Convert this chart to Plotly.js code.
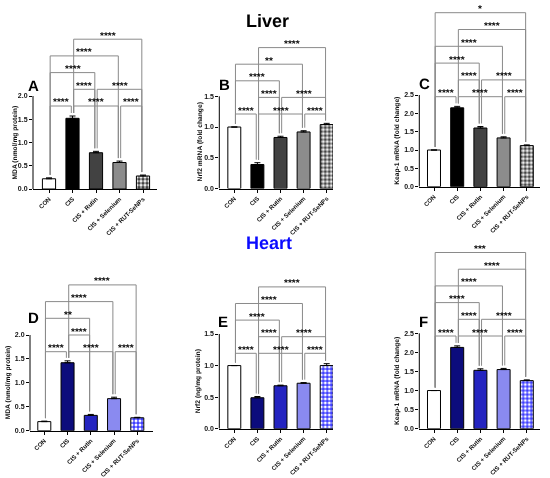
<!DOCTYPE html>
<html>
<head>
<meta charset="utf-8">
<script src="https://cdn.plot.ly/plotly-3.0.1.min.js"></script>
<style>
html,body{margin:0;padding:0;background:#fff;}
#chart{width:550px;height:478px;}
#chart svg.main-svg{will-change:transform;}
#chart .annotation text{text-rendering:geometricPrecision;}
</style>
</head>
<body>
<div id="chart"></div>
<script>
// ---------- DATA ----------
const categories = ['CON', 'CIS', 'CIS + Rutin', 'CIS + Selenium', 'CIS + RUT-SeNPs'];

const liverMDA = [0.22, 1.52, 0.78, 0.57, 0.28];
const liverMDAErr = [0.02, 0.05, 0.03, 0.03, 0.02];
const liverNrf2 = [1.00, 0.39, 0.83, 0.92, 1.04];
const liverNrf2Err = [0.00, 0.03, 0.02, 0.02, 0.02];
const liverKeap1 = [1.00, 2.15, 1.60, 1.33, 1.12];
const liverKeap1Err = [0.00, 0.04, 0.04, 0.03, 0.02];

const heartMDA = [0.19, 1.42, 0.32, 0.67, 0.27];
const heartMDAErr = [0.01, 0.04, 0.02, 0.03, 0.01];
const heartNrf2 = [1.00, 0.49, 0.68, 0.72, 1.00];
const heartNrf2Err = [0.00, 0.02, 0.01, 0.01, 0.03];
const heartKeap1 = [1.00, 2.13, 1.53, 1.55, 1.26];
const heartKeap1Err = [0.00, 0.04, 0.04, 0.03, 0.02];

// comparisons: [group i, group j, label, bracket level]
const compA = [[0,1,'****',1],[1,3,'****',1],[3,4,'****',1],[1,2,'****',2],[2,4,'****',2],[0,2,'****',3],[0,3,'****',4],[1,4,'****',5]];
const compB = [[0,1,'****',1],[1,3,'****',1],[3,4,'****',1],[1,2,'****',2],[2,4,'****',2],[0,2,'****',3],[0,3,'**',4],[1,4,'****',5]];
const compC = [[0,1,'****',1],[1,3,'****',1],[3,4,'****',1],[1,2,'****',2],[2,4,'****',2],[0,2,'****',3],[0,3,'****',4],[1,4,'****',5],[0,4,'*',6]];
const compD = [[0,1,'****',1],[1,3,'****',1],[3,4,'****',1],[1,2,'****',2],[0,2,'**',3],[0,3,'****',4],[1,4,'****',5]];
const compE = [[0,1,'****',1],[1,3,'****',1],[3,4,'****',1],[1,2,'****',2],[2,4,'****',2],[0,2,'****',3],[0,3,'****',4],[1,4,'****',5]];
const compF = [[0,1,'****',1],[1,3,'****',1],[3,4,'****',1],[1,2,'****',2],[2,4,'****',2],[0,2,'****',3],[0,3,'****',4],[1,4,'****',5],[0,4,'***',6]];

const yTitles = ['MDA (nmol/mg protein)', 'Nrf2 mRNA (fold change)', 'Keap-1 mRNA (fold change)',
                 'MDA (nmol/mg protein)', 'Nrf2 (ng/mg protein)', 'Keap-1 mRNA (fold change)'];
const panelLetters = ['A', 'B', 'C', 'D', 'E', 'F'];
const sectionTitles = ['Liver', 'Heart'];

// ---------- STYLE / GEOMETRY ----------
const W = 550, H = 478;
const FONT = 'Arial, "Liberation Sans", sans-serif';
const liverStyle = {
  bg: ['#ffffff', '#000000', '#424242', '#8c8c8c', '#ffffff'],
  fg: ['#000000', '#000000', '#000000', '#000000', '#000000'],
  shape: ['', '', '', '', '.'],
  size: [8, 8, 8, 8, 4],
  sol: [0.3, 0.3, 0.3, 0.3, 0.6]
};
const heartStyle = {
  bg: ['#ffffff', '#0c0c7c', '#2424c0', '#8a8af0', '#3a3aff'],
  fg: ['#000000', '#000000', '#000000', '#000000', '#ffffff'],
  shape: ['', '', '', '', '.'],
  size: [8, 8, 8, 8, 4],
  sol: [0.3, 0.3, 0.3, 0.3, 0.45]
};

const panels = [
  {vals: liverMDA, err: liverMDAErr, comp: compA, style: liverStyle, xL: 33, xR: 157, c0: 49, s: 23.5, y0: 189, yTop: 96, max: 2.0, dt: 0.5, l1: 106, step: 16.7, titleX: 15, letter: [33.5, 85]},
  {vals: liverNrf2, err: liverNrf2Err, comp: compB, style: liverStyle, xL: 219.3, xR: 333, c0: 234.3, s: 23.1, y0: 188.5, yTop: 96.3, max: 1.5, dt: 0.5, l1: 114, step: 16.6, titleX: 200, letter: [224, 84]},
  {vals: liverKeap1, err: liverKeap1Err, comp: compC, style: liverStyle, xL: 419.3, xR: 540, c0: 434, s: 23.2, y0: 186.7, yTop: 95, max: 2.5, dt: 0.5, l1: 96.7, step: 16.8, titleX: 397, letter: [424, 83]},
  {vals: heartMDA, err: heartMDAErr, comp: compD, style: heartStyle, xL: 30, xR: 152.7, c0: 44.3, s: 23.25, y0: 430.7, yTop: 335, max: 2.0, dt: 0.5, l1: 351.7, step: 16.7, titleX: 7.5, letter: [33.5, 317]},
  {vals: heartNrf2, err: heartNrf2Err, comp: compE, style: heartStyle, xL: 219.3, xR: 333, c0: 234.3, s: 23.1, y0: 428.7, yTop: 334, max: 1.5, dt: 0.5, l1: 353.3, step: 16.6, titleX: 198, letter: [222.5, 321]},
  {vals: heartKeap1, err: heartKeap1Err, comp: compF, style: heartStyle, xL: 419.3, xR: 540, c0: 434, s: 23.2, y0: 428.7, yTop: 333.3, max: 2.5, dt: 0.5, l1: 336, step: 16.7, titleX: 397, letter: [423.5, 321]}
];

const traces = [];
const layout = {
  width: W, height: H,
  margin: {l: 0, r: 0, t: 0, b: 0},
  paper_bgcolor: '#ffffff', plot_bgcolor: 'rgba(0,0,0,0)',
  showlegend: false,
  font: {family: FONT, color: '#000'},
  shapes: [], annotations: []
};

const xIdx = categories.map((_, i) => i);

panels.forEach((p, n) => {
  const id = n === 0 ? '' : String(n + 1);
  const xa = 'x' + id, ya = 'y' + id;
  const k = (p.y0 - p.yTop) / p.max;             // px per unit
  const maxLevel = Math.max(...p.comp.map(c => c[3]));
  const topPx = p.l1 - (maxLevel - 1) * p.step - 10;
  const ticks = [];
  for (let t = 0; t <= p.max + 1e-9; t += p.dt) ticks.push(+t.toFixed(2));

  layout['xaxis' + id] = {
    domain: [p.xL / W, p.xR / W], anchor: ya,
    range: [(p.xL - p.c0) / p.s, (p.xR - p.c0) / p.s],
    showline: true, linecolor: '#000', linewidth: 1,
    ticks: 'outside', ticklen: 3, tickwidth: 1, tickcolor: '#000',
    tickvals: xIdx, ticktext: categories, tickangle: -45,
    tickfont: {family: FONT, size: 6.2, color: '#111', weight: 'bold'},
    showgrid: false, zeroline: false, fixedrange: true
  };
  layout['yaxis' + id] = {
    domain: [1 - p.y0 / H, 1 - topPx / H], anchor: xa,
    range: [0, (p.y0 - topPx) / k],
    showline: false,
    ticks: 'outside', ticklen: 3, tickwidth: 1, tickcolor: '#000',
    tickvals: ticks, tickformat: '.1f',
    tickfont: {family: FONT, size: 7, color: '#111', weight: 'bold'},
    showgrid: false, zeroline: false, fixedrange: true
  };
  // y axis line only over the data range
  layout.shapes.push({type: 'line', xref: xa + ' domain', yref: ya, x0: 0, x1: 0, y0: 0, y1: p.max,
                      line: {color: '#000', width: 1}});

  // bars
  traces.push({
    type: 'bar', x: xIdx, y: p.vals, xaxis: xa, yaxis: ya, width: 0.56,
    marker: {
      color: p.style.bg,
      line: {color: '#000', width: 1},
      pattern: {shape: p.style.shape, fgcolor: p.style.fg, bgcolor: p.style.bg, fgopacity: 1,
                size: p.style.size, solidity: p.style.sol, fillmode: 'overlay'}
    },
    error_y: {type: 'data', array: p.err, arrayminus: p.err.map(() => 0), symmetric: false,
              color: '#000', thickness: 1, width: 3},
    hoverinfo: 'skip'
  });

  // significance brackets
  const bx = [], by = [];
  const off = 0.05, gap = 3 / k;
  p.comp.forEach(([i, j, lab, lev]) => {
    const v = (p.y0 - (p.l1 - (lev - 1) * p.step)) / k;
    const bi = p.vals[i] + p.err[i] + gap, bj = p.vals[j] + p.err[j] + gap;
    bx.push(i + off, i + off, j - off, j - off, null);
    by.push(bi, v, v, bj, null);
    layout.annotations.push({
      xref: xa, yref: ya, x: (i + j) / 2, y: v, text: lab, showarrow: false,
      xanchor: 'center', yanchor: 'middle', yshift: 4,
      font: {family: FONT, size: 10, color: '#000', weight: 'bold'}
    });
  });
  traces.push({type: 'scatter', mode: 'lines', x: bx, y: by, xaxis: xa, yaxis: ya,
               line: {color: '#8a8a8a', width: 1}, hoverinfo: 'skip', connectgaps: false});

  // y title
  layout.annotations.push({
    xref: 'paper', yref: 'paper', x: p.titleX / W, y: 1 - ((p.y0 + p.yTop) / 2) / H,
    text: yTitles[n], textangle: -90, showarrow: false, xanchor: 'center', yanchor: 'middle',
    font: {family: FONT, size: 6.7, color: '#111', weight: 'bold'}
  });
  // panel letter
  layout.annotations.push({
    xref: 'paper', yref: 'paper', x: p.letter[0] / W, y: 1 - p.letter[1] / H,
    text: panelLetters[n], showarrow: false, xanchor: 'center', yanchor: 'middle',
    font: {family: FONT, size: 15, color: '#000', weight: 'bold'}
  });
});

// section titles
layout.annotations.push({xref: 'paper', yref: 'paper', x: 267 / W, y: 1 - 21.5 / H, text: sectionTitles[0],
  showarrow: false, xanchor: 'center', yanchor: 'middle', font: {family: FONT, size: 18, color: '#000', weight: 'bold'}});
layout.annotations.push({xref: 'paper', yref: 'paper', x: 269 / W, y: 1 - 243 / H, text: sectionTitles[1],
  showarrow: false, xanchor: 'center', yanchor: 'middle', font: {family: FONT, size: 18, color: '#0a0aff', weight: 'bold'}});

Plotly.newPlot('chart', traces, layout, {staticPlot: true, displayModeBar: false});
</script>
</body>
</html>
